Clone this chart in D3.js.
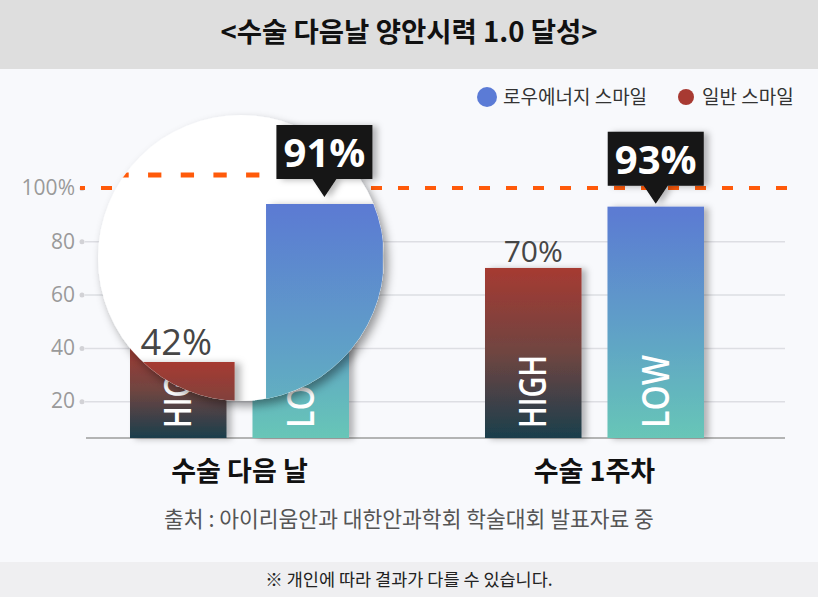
<!DOCTYPE html>
<html>
<head>
<meta charset="utf-8">
<script src="https://cdn.jsdelivr.net/npm/d3@7"></script>
<style>
  body { margin: 0; }
  svg { display: block; }
</style>
</head>
<body>
<div id="chart"></div>
<script>
var categories = ["수술 다음 날", "수술 1주차"];
var series = ["HIGH", "LOW"];
var seriesNames = {HIGH: "일반 스마일", LOW: "로우에너지 스마일"};
var highValues = [42, 70];
var lowValues = [91, 93];
var yTicks = [20, 40, 60, 80, 100];
var titleText = "<수술 다음날 양안시력 1.0 달성>";
var sourceText = "출처 : 아이리움안과 대한안과학회 학술대회 발표자료 중";
var noteText = "※ 개인에 따라 결과가 다를 수 있습니다.";

var width = 818, height = 597;
var korean = "'Noto Sans CJK KR', sans-serif";
var latin = "'Open Sans', sans-serif";

var rows = [];
categories.forEach(function(c, i){
    rows.push({cat: c, idx: i, key: "HIGH", value: highValues[i]});
    rows.push({cat: c, idx: i, key: "LOW", value: lowValues[i]});
});

var svg = d3.select("#chart")
  .append("svg")
    .attr("width", width)
    .attr("height", height);

var defs = svg.append("defs");
var grads = {HIGH: ["#a63a32", "#6f4541", "#1a3e4c"], LOW: ["#5b7ad3", "#5f9ec8", "#67c6b7"]};
series.forEach(function(k){
    var g = defs.append("linearGradient").attr("id", "grad-" + k)
        .attr("x1", 0).attr("y1", 0).attr("x2", 0).attr("y2", 1);
    grads[k].forEach(function(col, i){
        g.append("stop").attr("offset", i / 2).attr("stop-color", col);
    });
});
defs.append("filter").attr("id", "barShadow").attr("x", "-20%").attr("width", "150%")
  .append("feDropShadow").attr("dx", 5).attr("dy", 1).attr("stdDeviation", 3)
    .attr("flood-color", "#000").attr("flood-opacity", 0.28);
defs.append("filter").attr("id", "lensShadow").attr("x", "-20%").attr("y", "-20%")
    .attr("width", "150%").attr("height", "150%")
  .append("feDropShadow").attr("dx", 4).attr("dy", 5).attr("stdDeviation", 5)
    .attr("flood-color", "#000").attr("flood-opacity", 0.4);

// lens geometry
var lens = {cx: 241, cy: 258, r: 143, fx: 188, fy: 250, s: 1.21};
defs.append("clipPath").attr("id", "lensClip")
  .append("circle").attr("cx", lens.cx).attr("cy", lens.cy).attr("r", lens.r);

// backgrounds
svg.append("rect").attr("width", width).attr("height", height).attr("fill", "#f8f9fc");
svg.append("rect").attr("width", width).attr("height", 69).attr("fill", "#dedede");
svg.append("rect").attr("y", 562).attr("width", width).attr("height", 35).attr("fill", "#efeff1");

svg.append("text").attr("x", width / 2).attr("y", 42).attr("text-anchor", "middle")
    .style("font-family", korean).style("font-weight", 700).style("font-size", "27.5px")
    .attr("fill", "#111").text(titleText);
svg.append("text").attr("x", width / 2).attr("y", 586).attr("text-anchor", "middle")
    .style("font-family", korean).style("font-size", "17.5px")
    .attr("fill", "#222").text(noteText);
svg.append("text").attr("x", width / 2).attr("y", 527).attr("text-anchor", "middle")
    .style("font-family", korean).style("font-size", "21.5px")
    .attr("fill", "#555").text(sourceText);

// scales
var x0 = d3.scalePoint().domain(categories).range([239.5, 594.5]);
var x1 = d3.scaleBand().domain(series).range([-109.5, 109.5]).paddingInner(0.212);
var y = d3.scaleLinear().domain([0, 100]).range([454.5, 188]);
var baseY = 438;

// legend
var legend = [{key: "LOW", x: 487, r: 10, col: "#5b7bd6"}, {key: "HIGH", x: 686, r: 8, col: "#a83a32"}];
legend.forEach(function(l){
    svg.append("circle").attr("cx", l.x).attr("cy", 97).attr("r", l.r).attr("fill", l.col);
    svg.append("text").attr("x", l.x + 16).attr("y", 104)
        .style("font-family", korean).style("font-size", "19px")
        .attr("fill", "#333").text(seriesNames[l.key]);
});

// Y axis with gridlines
var yAxis = svg.append("g")
    .attr("transform", "translate(85,0)")
    .call(d3.axisLeft(y).tickValues(yTicks).tickSize(-700).tickPadding(10)
        .tickFormat(function(d){ return d === 100 ? d + "%" : d; }));
yAxis.select(".domain").remove();
yAxis.selectAll(".tick line").attr("stroke", "#dddee3").attr("stroke-width", 1.5)
    .filter(function(d){ return d === 100; }).remove();
yAxis.selectAll(".tick text").attr("fill", "#9a9a9a")
    .style("font-family", latin).style("font-size", "21px");
yAxis.selectAll(".tick").append("circle").attr("cx", -3).attr("r", 2.5).attr("fill", "#d2d2d6");

svg.append("line").attr("x1", 86).attr("x2", 785).attr("y1", baseY).attr("y2", baseY)
    .attr("stroke", "#9c9c9c").attr("stroke-width", 1.5);

// category labels
svg.selectAll(".cat").data(categories).enter().append("text")
    .attr("x", function(d){ return x0(d); }).attr("y", 481).attr("text-anchor", "middle")
    .style("font-family", korean).style("font-weight", 700).style("font-size", "27px")
    .attr("fill", "#111").text(function(d){ return d; });

// draws dashed 100% line + bars; labelIdx = which group gets its % label, keyLabels = rotated HIGH/LOW
function drawPlot(g, data, labelIdx, keyLabels){
    g.append("line").attr("x1", 80).attr("x2", 787).attr("y1", y(100)).attr("y2", y(100))
        .attr("stroke", "#ff5a0a").attr("stroke-width", 4)
        .attr("stroke-dasharray", "11,16").attr("stroke-dashoffset", 6);

    var bar = g.selectAll(".bar").data(data).enter().append("g");
    bar.append("rect")
        .attr("x", function(d){ return x0(d.cat) + x1(d.key); })
        .attr("y", function(d){ return y(d.value); })
        .attr("width", x1.bandwidth())
        .attr("height", function(d){ return baseY - y(d.value); })
        .attr("fill", function(d){ return "url(#grad-" + d.key + ")"; })
        .attr("filter", "url(#barShadow)");
    if (keyLabels){
        bar.append("text")
            .attr("transform", function(d){
                return "translate(" + (x0(d.cat) + x1(d.key) + x1.bandwidth() / 2 + 13) + "," + (baseY - 10) + ") rotate(-90)";
            })
            .attr("textLength", 73).attr("lengthAdjust", "spacingAndGlyphs")
            .style("font-family", latin).style("font-weight", 600).style("font-size", "37px")
            .attr("fill", "#fff").text(function(d){ return d.key; });
    }
    bar.filter(function(d){ return d.key === "HIGH" && d.idx === labelIdx; }).append("text")
        .attr("x", function(d){ return x0(d.cat) + x1(d.key) + x1.bandwidth() / 2; })
        .attr("y", function(d){ return y(d.value) - 6; })
        .attr("text-anchor", "middle")
        .style("font-family", latin).style("font-size", "30px")
        .attr("fill", "#464646").text(function(d){ return d.value + "%"; });
}

function callout(cx, tipY, label){
    var g = svg.append("g").attr("filter", "url(#barShadow)");
    var top = tipY - 18 - 54;
    g.append("path")
        .attr("d", "M" + (cx - 48) + "," + top + "h96v54h-36l-12,18l-12,-18h-36z")
        .attr("fill", "#141414");
    svg.append("text").attr("x", cx).attr("y", top + 42).attr("text-anchor", "middle")
        .style("font-family", latin).style("font-weight", 700).style("font-size", "40px")
        .attr("fill", "#fff").text(label);
}

drawPlot(svg.append("g"), rows, 1, true);

var c1 = categories[1];
callout(x0(c1) + x1("LOW") + x1.bandwidth() / 2, y(lowValues[1]) - 3, lowValues[1] + "%");

// magnifier lens over the first group
svg.append("circle").attr("cx", lens.cx).attr("cy", lens.cy).attr("r", lens.r)
    .attr("fill", "#fff").attr("filter", "url(#lensShadow)");
var inner = svg.append("g").attr("clip-path", "url(#lensClip)")
  .append("g")
    .attr("transform", "translate(" + lens.fx * (1 - lens.s) + "," + lens.fy * (1 - lens.s) + ") scale(" + lens.s + ")");
drawPlot(inner, rows.filter(function(d){ return d.idx === 0; }), 0, false);

var c0 = categories[0];
var lx = lens.fx + lens.s * (x0(c0) + x1("LOW") + x1.bandwidth() / 2 - lens.fx);
var ly = lens.fy + lens.s * (y(lowValues[0]) - lens.fy);
callout(lx, ly - 7, lowValues[0] + "%");
</script>
</body>
</html>
